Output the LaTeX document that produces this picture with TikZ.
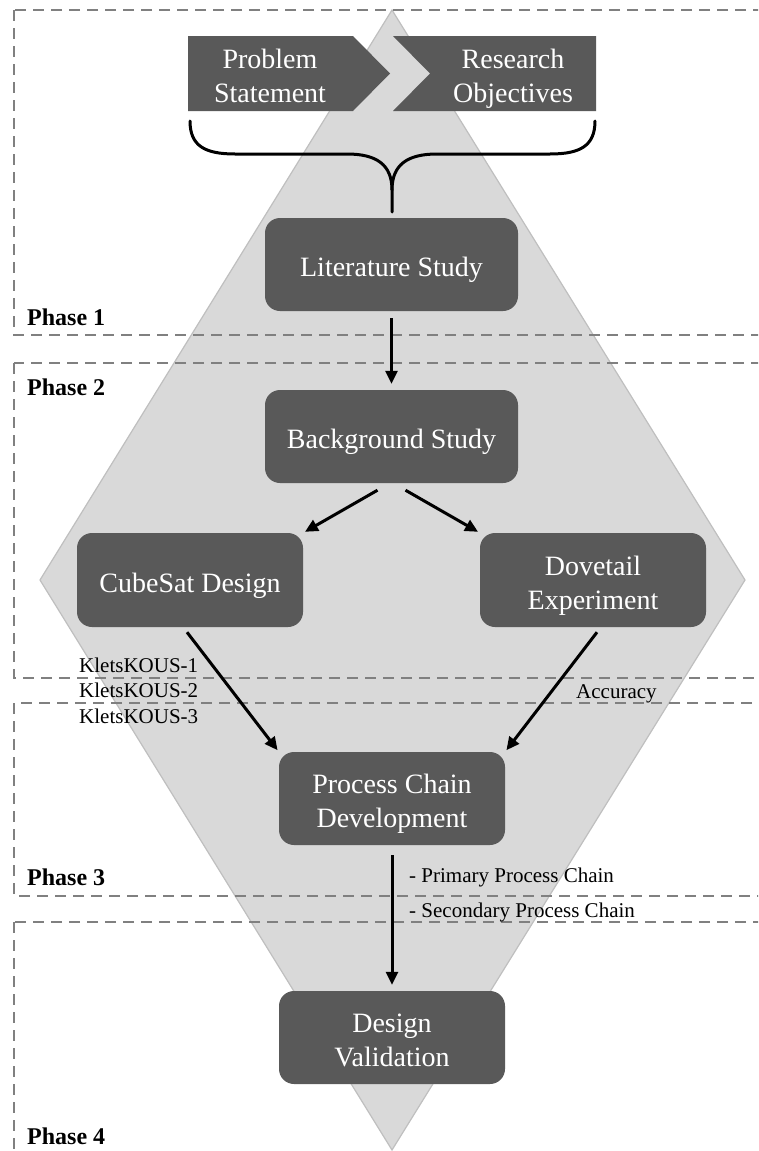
\documentclass[tikz,border=0pt]{standalone}
\usepackage{fontspec}
\setmainfont{Liberation Serif}
\usetikzlibrary{arrows.meta}
\definecolor{boxfill}{HTML}{595959}
\definecolor{diamondfill}{HTML}{D9D9D9}
\definecolor{diamondedge}{HTML}{BFBFBF}
\definecolor{phaseline}{HTML}{808080}
% invisible struts that set the vertical placement of box texts
\newcommand\boxtop{\rule{0pt}{32pt}}
\newcommand\boxbot{\rule[-8pt]{0pt}{8pt}}
\begin{document}
\begin{tikzpicture}[x=1pt,y=-1pt,
  stepbox/.style={fill=boxfill, rounded corners=15pt, text=white,
    font=\fontsize{28}{34}\selectfont, align=center, inner sep=0pt},
  widebox/.style={stepbox, minimum width=253pt, minimum height=93pt},
  narrowbox/.style={stepbox, minimum width=226pt, minimum height=94pt},
  chevtext/.style={text=white, font=\fontsize{28}{34}\selectfont, align=center, inner sep=0pt},
  phasebox/.style={draw=phaseline, line width=2.2pt, dash pattern=on 11pt off 7pt},
  phaselabel/.style={font=\fontsize{24}{28}\selectfont\bfseries, anchor=base west, inner sep=0pt},
  note/.style={font=\fontsize{21}{25.5}\selectfont, inner sep=0pt},
  flow/.style={line width=3pt, -{Triangle[length=13pt,width=12pt]}},
  bracestyle/.style={line width=3pt, line cap=round}]
\useasboundingbox (0,0) rectangle (758,1151);
\begin{scope}
\clip (0,0) rectangle (758,1151);
% background diamond
\fill[diamondfill, draw=diamondedge, line width=1.2pt]
  (392,10) -- (745,580) -- (392,1150) -- (40,580) -- cycle;
% phase frames (open to the right)
\draw[phasebox] (14,10) rectangle (775,335);
\draw[phasebox] (14,363) rectangle (775,678);
\draw[phasebox] (14,703) rectangle (775,896);
\draw[phasebox] (14,922) rectangle (775,1175);
\end{scope}

% phase labels
\node[phaselabel] (ph1) at (27,325) {Phase 1};
\node[phaselabel] (ph2) at (27,395) {Phase 2};
\node[phaselabel] (ph3) at (27,885) {Phase 3};
\node[phaselabel] (ph4) at (27,1144) {Phase 4};

% chevrons
\fill[boxfill] (188,36) -- (353,36) -- (390,73.5) -- (353,111) -- (188,111) -- cycle;
\fill[boxfill] (393,36) -- (596,36) -- (596,111) -- (393,111) -- (430,73.5) -- cycle;
\node[chevtext] (prob) at (270,73.5) {\boxtop Problem\\Statement\boxbot};
\node[chevtext] (obj) at (513,73.5) {\boxtop Research\\Objectives\boxbot};

% curly brace gathering both inputs
\draw[bracestyle] (190,121) .. controls (190,146) and (205,154) .. (235,154)
  -- (347,154) .. controls (377,154) and (392,165) .. (392,190) -- (392,212);
\draw[bracestyle] (595,121) .. controls (595,146) and (580,154) .. (550,154)
  -- (437,154) .. controls (407,154) and (392,165) .. (392,190);

% process steps
\node[widebox] (lit) at (391.5,264.5) {\boxtop Literature Study\boxbot};
\node[widebox] (bg) at (391.5,436.5) {\boxtop Background Study\boxbot};
\node[narrowbox] (cube) at (190,580) {\boxtop CubeSat Design\boxbot};
\node[narrowbox] (dove) at (593,580) {\boxtop Dovetail\\Experiment\boxbot};
\node[narrowbox, minimum height=93pt] (proc) at (392,798.5) {\boxtop Process Chain\\Development\boxbot};
\node[narrowbox, minimum height=93pt] (valid) at (392,1037.5) {\boxtop Design\\Validation\boxbot};

% connectors
\draw[flow, shorten <=7pt, shorten >=6pt] (lit.south) -- (bg.north);
\draw[flow, shorten >=2pt] ([xshift=-14pt,yshift=-7pt]bg.south) -- (cube.north east);
\draw[flow, shorten >=2pt] ([xshift=14pt,yshift=-7pt]bg.south) -- (dove.north west);
\draw[flow, shorten >=2pt] ([xshift=-3pt,yshift=-5pt]cube.south) -- (proc.north west);
\draw[flow, shorten >=2pt] ([xshift=4pt,yshift=-5pt]dove.south) -- (proc.north east);
\draw[flow, shorten <=10pt, shorten >=6pt] (proc.south) -- (valid.north);

% connector notes
\node[note, anchor=north west, align=left] (klets) at (79,657.5)
  {KletsKOUS-1\\KletsKOUS-2\\KletsKOUS-3};
\node[note, anchor=base west] (acc) at (576,698) {Accuracy};
\node[note, anchor=north west, align=left, font=\fontsize{21}{35}\selectfont] (chains) at (409,867.5)
  {- Primary Process Chain\\- Secondary Process Chain};
\end{tikzpicture}
\end{document}
